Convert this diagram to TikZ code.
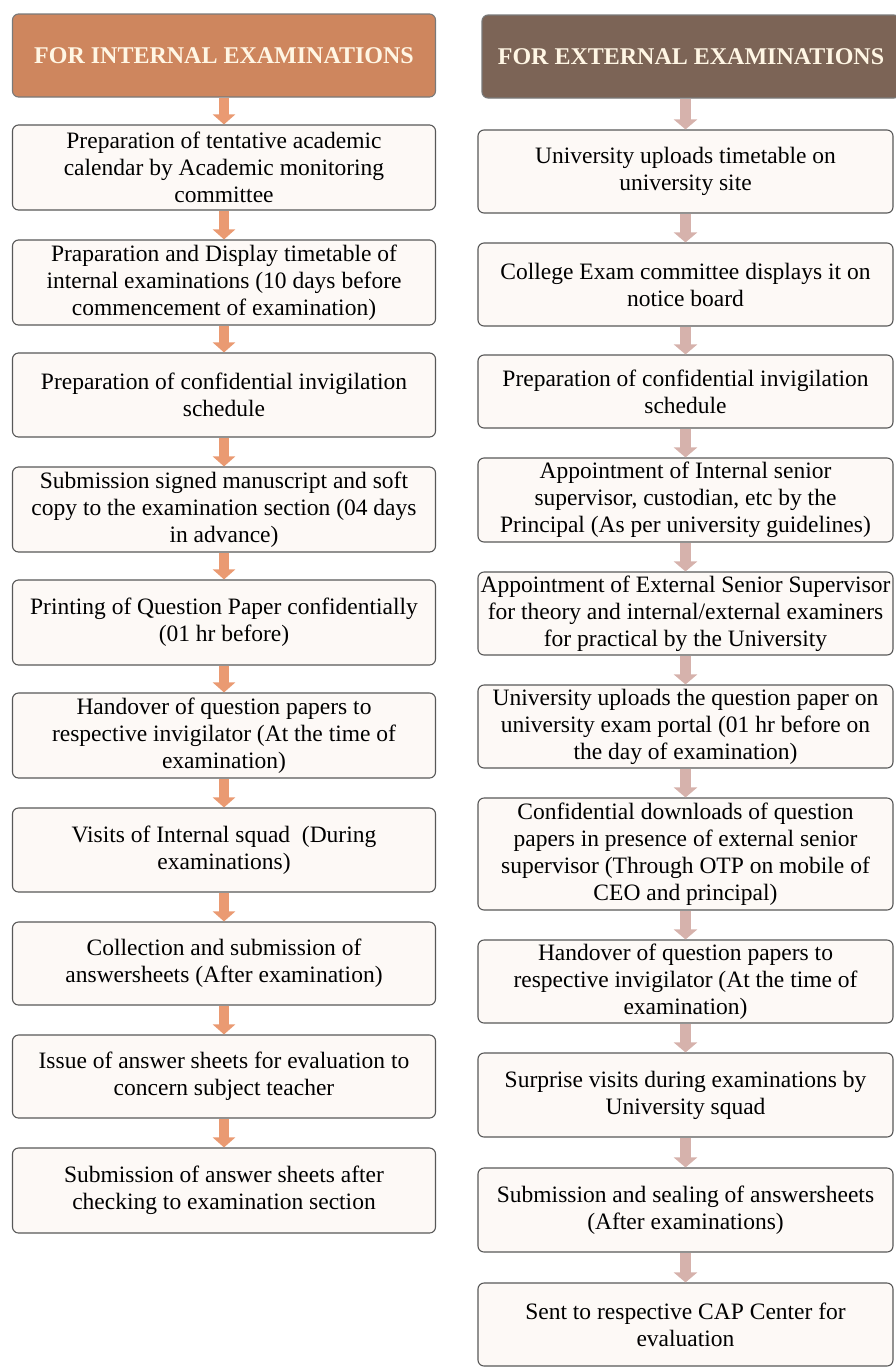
\documentclass[tikz,border=0pt]{standalone}
\usepackage{fontspec}
\setmainfont{Liberation Serif}
\usepackage{xcolor}
\usepackage{tikz}
\usetikzlibrary{arrows.meta}

\definecolor{inthead}{RGB}{206,134,94}
\definecolor{exthead}{RGB}{124,100,86}
\definecolor{intarrow}{RGB}{234,154,114}
\definecolor{extarrow}{RGB}{214,178,172}
\definecolor{boxfill}{RGB}{253,249,246}
\definecolor{boxline}{RGB}{88,88,88}
\definecolor{headtext}{RGB}{255,246,228}

\begin{document}
\begin{tikzpicture}[x=1pt, y=-1pt,
    stagebox/.style={draw=boxline, line width=1.1pt, rounded corners=6pt, fill=boxfill,
        align=center, inner sep=2pt, font=\fontsize{23.5}{27}\selectfont},
    inbox/.style={stagebox, minimum width=423pt},
    exbox/.style={stagebox, minimum width=415pt},
    headbox/.style={draw=boxline!80, line width=1.1pt, rounded corners=6pt, text=headtext,
        minimum height=83pt, font=\fontsize{24}{28}\selectfont\bfseries},
    iflow/.style={intarrow, line width=10pt, -{Triangle[width=22pt,length=10pt]}},
    eflow/.style={extarrow, line width=11pt, -{Triangle[width=23pt,length=10pt]}}]
    \useasboundingbox (0,0) rectangle (895,1369);

    % Internal examinations
    \node[headbox, fill=inthead, minimum width=423pt] (ih) at (224,55.5) {FOR INTERNAL EXAMINATIONS};
    \node[inbox, minimum height=85pt] (i1) at (224,167.5) {Preparation of tentative academic\\calendar by Academic monitoring\\committee};
    \node[inbox, minimum height=85pt] (i2) at (224,282.5) {Praparation and Display timetable of\\internal examinations (10 days before\\commencement of examination)};
    \node[inbox, minimum height=84pt] (i3) at (224,395) {Preparation of confidential invigilation\\schedule};
    \node[inbox, minimum height=85pt] (i4) at (224,509.5) {Submission signed manuscript and soft\\copy to the examination section (04 days\\in advance)};
    \node[inbox, minimum height=85pt] (i5) at (224,622.5) {Printing of Question Paper confidentially\\(01 hr before)};
    \node[inbox, minimum height=85pt] (i6) at (224,735.5) {Handover of question papers to\\respective invigilator (At the time of\\examination)};
    \node[inbox, minimum height=84pt] (i7) at (224,850) {Visits of Internal squad\ \ (During\\examinations)};
    \node[inbox, minimum height=83pt] (i8) at (224,963.5) {Collection and submission of\\answersheets (After examination)};
    \node[inbox, minimum height=83pt] (i9) at (224,1076.5) {Issue of answer sheets for evaluation to\\concern subject teacher};
    \node[inbox, minimum height=85pt] (i10) at (224,1190.5) {Submission of answer sheets after\\checking to examination section};

    % External examinations
    \node[headbox, fill=exthead, minimum width=418pt] (eh) at (691,56.5) {FOR EXTERNAL EXAMINATIONS};
    \node[exbox, minimum height=83pt] (e1) at (685.5,171.5) {University uploads timetable on\\university site};
    \node[exbox, minimum height=83pt] (e2) at (685.5,284.5) {College Exam committee displays it on\\notice board};
    \node[exbox, minimum height=73pt] (e3) at (685.5,391.5) {Preparation of confidential invigilation\\schedule};
    \node[exbox, minimum height=84pt] (e4) at (685.5,500) {Appointment of Internal senior\\supervisor, custodian, etc by the\\Principal (As per university guidelines)};
    \node[exbox, minimum height=83pt] (e5) at (685.5,613.5) {Appointment of External Senior Supervisor\\for theory and internal/external examiners\\for practical by the University};
    \node[exbox, minimum height=83pt] (e6) at (685.5,726.5) {University uploads the question paper on\\university exam portal (01 hr before on\\the day of examination)};
    \node[exbox, minimum height=112pt] (e7) at (685.5,854) {Confidential downloads of question\\papers in presence of external senior\\supervisor (Through OTP on mobile of\\CEO and principal)};
    \node[exbox, minimum height=83pt] (e8) at (685.5,981.5) {Handover of question papers to\\respective invigilator (At the time of\\examination)};
    \node[exbox, minimum height=84pt] (e9) at (685.5,1095) {Surprise visits during examinations by\\University squad};
    \node[exbox, minimum height=84pt] (e10) at (685.5,1210) {Submission and sealing of answersheets\\(After examinations)};
    \node[exbox, minimum height=83pt] (e11) at (685.5,1324.5) {Sent to respective CAP Center for\\evaluation};

    % Arrows
    \draw[iflow] (ih) -- (i1);
    \foreach \a/\b in {i1/i2, i2/i3, i3/i4, i4/i5, i5/i6, i6/i7, i7/i8, i8/i9, i9/i10}
        \draw[iflow] (\a) -- (\b);
    \draw[eflow] (eh.south -| e1) -- (e1);
    \foreach \a/\b in {e1/e2, e2/e3, e3/e4, e4/e5, e5/e6, e6/e7, e7/e8, e8/e9, e9/e10, e10/e11}
        \draw[eflow] (\a) -- (\b);
\end{tikzpicture}
\end{document}
